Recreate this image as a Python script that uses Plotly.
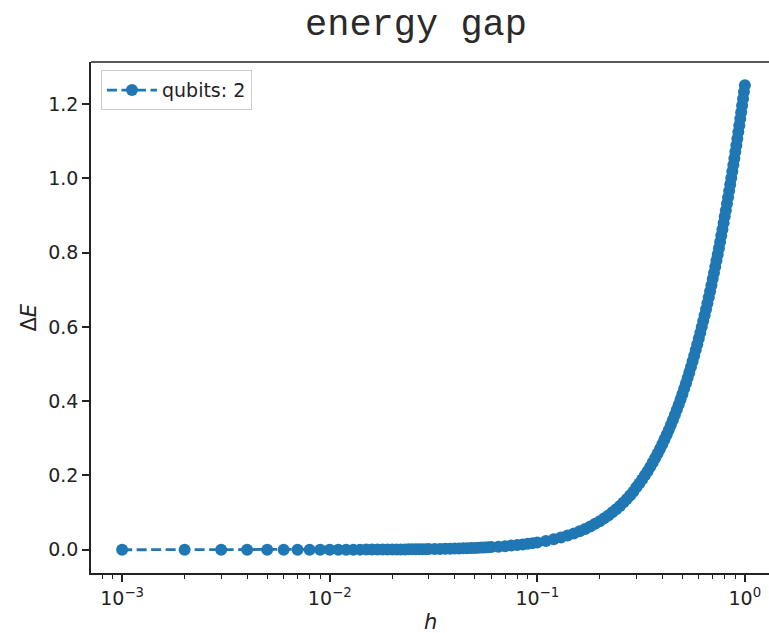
import plotly.graph_objects as go

# ---- data ----
h_low = [0.001, 0.002, 0.003, 0.004, 0.005, 0.006, 0.007, 0.008, 0.009, 0.010,
         0.011, 0.012, 0.013, 0.014, 0.015, 0.016, 0.017, 0.018, 0.019, 0.020,
         0.021, 0.022, 0.023, 0.024, 0.025, 0.026, 0.027, 0.028, 0.029, 0.030]
gap_low = [0.000002, 0.000008, 0.000018, 0.000032, 0.00005, 0.000072, 0.000098, 0.000128, 0.000162, 0.0002,
           0.000242, 0.000288, 0.000338, 0.000392, 0.00045, 0.000512, 0.000578, 0.000648, 0.000722, 0.0008,
           0.000882, 0.000968, 0.001058, 0.001152, 0.00125, 0.001352, 0.001458, 0.001568, 0.001682, 0.001798]

h_mid = [0.032, 0.034, 0.036, 0.038, 0.040, 0.042, 0.044, 0.046, 0.048, 0.050,
         0.052, 0.054, 0.056, 0.058, 0.060, 0.065, 0.070, 0.075, 0.080, 0.085,
         0.090, 0.095, 0.100]
gap_mid = [0.002046, 0.002309, 0.002589, 0.002884, 0.003195, 0.003522, 0.003865, 0.004223, 0.004597, 0.004988,
           0.005393, 0.005815, 0.006252, 0.006705, 0.007174, 0.008414, 0.009752, 0.011187, 0.012718, 0.014346,
           0.016069, 0.017887, 0.019804]

h_high = [0.11, 0.12, 0.13, 0.14, 0.15, 0.16, 0.17, 0.18, 0.19, 0.20,
          0.21, 0.22, 0.23, 0.24, 0.25, 0.26, 0.27, 0.28, 0.29, 0.30,
          0.31, 0.32, 0.33, 0.34, 0.35, 0.36, 0.37, 0.38, 0.39, 0.40,
          0.41, 0.42, 0.43, 0.44, 0.45, 0.46, 0.47, 0.48, 0.49, 0.50,
          0.51, 0.52, 0.53, 0.54, 0.55, 0.56, 0.57, 0.58, 0.59, 0.60,
          0.61, 0.62, 0.63, 0.64, 0.65, 0.66, 0.67, 0.68, 0.69, 0.70,
          0.71, 0.72, 0.73, 0.74, 0.75, 0.76, 0.77, 0.78, 0.79, 0.80,
          0.81, 0.82, 0.83, 0.84, 0.85, 0.86, 0.87, 0.88, 0.89, 0.90,
          0.91, 0.92, 0.93, 0.94, 0.95, 0.96, 0.97, 0.98, 0.99, 1.00]
gap_high = [0.02391, 0.02840, 0.03325, 0.03846, 0.04403, 0.04995, 0.05622, 0.06283, 0.06977, 0.07703,
            0.08462, 0.09252, 0.10073, 0.10923, 0.11803, 0.12712, 0.13649, 0.14612, 0.15603, 0.16807,
            0.17861, 0.18939, 0.20041, 0.21167, 0.22315, 0.23485, 0.24679, 0.25892, 0.27126, 0.28379,
            0.29652, 0.30945, 0.32254, 0.33582, 0.34926, 0.36287, 0.37665, 0.39058, 0.40466, 0.41889,
            0.43327, 0.44778, 0.46243, 0.47720, 0.49211, 0.50714, 0.52228, 0.53755, 0.55292, 0.56840,
            0.58400, 0.59968, 0.61548, 0.63137, 0.64735, 0.66343, 0.67960, 0.69586, 0.71219, 0.72861,
            0.74511, 0.76168, 0.77833, 0.79505, 0.81185, 0.82871, 0.84564, 0.86264, 0.87970, 0.89682,
            0.91400, 0.93124, 0.94854, 0.96589, 0.98330, 1.00075, 1.01827, 1.03582, 1.05344, 1.07110,
            1.08880, 1.10654, 1.12434, 1.14217, 1.16005, 1.17797, 1.19593, 1.21392, 1.23197, 1.25004]

x_tick_vals = [0.001, 0.01, 0.1, 1]
x_tick_text = ["10<sup>\u22123</sup>", "10<sup>\u22122</sup>", "10<sup>\u22121</sup>", "10<sup>0</sup>"]
x_minor_vals = [0.0008, 0.0009,
                0.002, 0.003, 0.004, 0.005, 0.006, 0.007, 0.008, 0.009,
                0.02, 0.03, 0.04, 0.05, 0.06, 0.07, 0.08, 0.09,
                0.2, 0.3, 0.4, 0.5, 0.6, 0.7, 0.8, 0.9]
y_tick_vals = [0.0, 0.2, 0.4, 0.6, 0.8, 1.0, 1.2]
y_tick_text = ["0.0", "0.2", "0.4", "0.6", "0.8", "1.0", "1.2"]

series_name = "qubits: 2"

h = h_low + h_mid + h_high
gap = gap_low + gap_mid + gap_high

BLUE = "#1f77b4"
INK = "#222222"
W, H = 769, 633
L, R, T, B = 91, 0, 62, 60

fig = go.Figure()
fig.add_trace(go.Scatter(
    x=h, y=gap, mode="lines+markers", name=series_name,
    line=dict(color=BLUE, width=2.8, dash="10px,4.5px"),
    marker=dict(color=BLUE, size=12, line=dict(width=0)),
    showlegend=True,
))

tickfont = dict(family="DejaVu Sans", size=19, color=INK)

fig.update_layout(
    width=W, height=H,
    margin=dict(l=L, r=R, t=T, b=B, autoexpand=False),
    paper_bgcolor="white", plot_bgcolor="white",
    title=dict(text="energy gap", font=dict(family="Liberation Mono", size=37, color="#2a2a2a"),
               x=416 / W, xanchor="center", xref="container",
               y=1 - 22 / H, yanchor="middle", yref="container"),
    showlegend=True,
    legend=dict(x=0.0147, y=0.984, xanchor="left", yanchor="top", itemwidth=50,
                bgcolor="rgba(255,255,255,0.8)", bordercolor="#cccccc", borderwidth=1,
                font=dict(family="DejaVu Sans", size=19, color=INK)),
    xaxis=dict(type="log", range=[-3.15, 0.1163], showgrid=False, zeroline=False,
               showline=True, linecolor=INK, linewidth=1.5, mirror=False,
               ticks="outside", ticklen=7, tickwidth=1.5, tickcolor=INK,
               tickvals=x_tick_vals, ticktext=x_tick_text, tickfont=tickfont,
               minor=dict(tickvals=x_minor_vals, ticks="outside", ticklen=4, tickwidth=1.1,
                          tickcolor=INK, showgrid=False),
               automargin=False),
    yaxis=dict(range=[-0.0625, 1.3129], showgrid=False, zeroline=False,
               showline=True, linecolor=INK, linewidth=1.5, mirror=False,
               ticks="outside", ticklen=7, tickwidth=1.5, tickcolor=INK,
               tickvals=y_tick_vals, ticktext=y_tick_text, tickfont=tickfont,
               automargin=False),
    shapes=[dict(type="line", xref="paper", yref="paper", x0=0, x1=1.02, y0=1, y1=1,
                 line=dict(color=INK, width=1.5))],
    annotations=[
        dict(text="<i>h</i>", xref="paper", yref="paper", x=0.5, y=0, xanchor="center",
             yanchor="middle", yshift=-49, showarrow=False,
             font=dict(family="DejaVu Sans", size=21, color=INK)),
        dict(text="\u0394<i>E</i>", xref="paper", yref="paper", x=0, y=0.5, xanchor="center",
             yanchor="middle", xshift=-63, textangle=-90, showarrow=False,
             font=dict(family="DejaVu Sans", size=21, color=INK)),
    ],
)

fig.write_html("out.html", config={"displayModeBar": False},
               post_script="document.documentElement.style.overflow='hidden';"
                           "document.body.style.margin='0';document.body.style.padding='0';"
                           "document.body.style.overflow='hidden';")
